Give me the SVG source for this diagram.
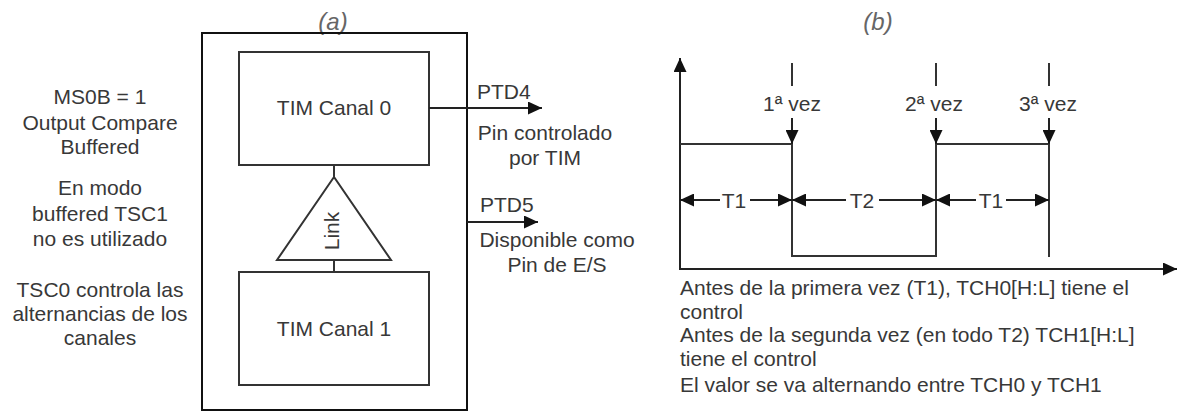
<svg xmlns="http://www.w3.org/2000/svg" width="1178" height="412" viewBox="0 0 1178 412">
  <style>
    .t { font-family: "Liberation Sans", Arial, sans-serif; font-size: 21px; fill: #383838; }
    .c { text-anchor: middle; }
    .cap { font-family: "Liberation Sans", Arial, sans-serif; font-size: 24px; font-style: italic; fill: #666; text-anchor: middle; }
    .box { fill: #fff; stroke: #333; stroke-width: 2; }
    .ln { fill: none; stroke: #333; stroke-width: 2; }
    .arr { fill: none; stroke: #222; stroke-width: 2; marker-end: url(#ah); }
  </style>
  <defs>
    <marker id="ah" markerUnits="userSpaceOnUse" markerWidth="14" markerHeight="13" refX="14" refY="6.5" orient="auto">
      <path d="M0,0 L14,6.5 L0,13 Z" fill="#111"/>
    </marker>
  </defs>
  <rect width="1178" height="412" fill="#fff"/>

  <!-- captions -->
  <text class="cap" x="333" y="30">(a)</text>
  <text class="cap" x="878" y="30">(b)</text>

  <!-- left notes -->
  <g id="notes-left" class="t c">
    <text x="100" y="104">MS0B = 1</text>
    <text x="100" y="130">Output Compare</text>
    <text x="100" y="154">Buffered</text>
    <text x="100" y="195">En modo</text>
    <text x="100" y="221">buffered TSC1</text>
    <text x="100" y="246">no es utilizado</text>
    <text x="100" y="297">TSC0 controla las</text>
    <text x="100" y="321">alternancias de los</text>
    <text x="100" y="345">canales</text>
  </g>

  <!-- outer container -->
  <g id="tim-module">
    <rect x="202" y="33" width="265" height="377" fill="none" stroke="#111" stroke-width="2"/>
  </g>

  <g id="canal0">
    <rect class="box" x="239" y="52" width="190" height="113"/>
    <text class="t c" x="334" y="115">TIM Canal 0</text>
  </g>

  <g id="link">
    <polygon class="box" points="334,177 277,260 391,260"/>
    <text class="t c" x="0" y="0" transform="translate(339,231) rotate(-90)">Link</text>
  </g>

  <g id="canal1">
    <rect class="box" x="239" y="272" width="190" height="113"/>
    <text class="t c" x="334" y="336">TIM Canal 1</text>
  </g>

  <g id="connectors">
    <line class="ln" x1="334" y1="165" x2="334" y2="177"/>
    <line class="ln" x1="334" y1="260" x2="334" y2="272"/>
    <line class="arr" x1="429" y1="108" x2="542" y2="108"/>
    <line class="arr" x1="467" y1="222" x2="538" y2="222"/>
  </g>

  <g id="ptd4-label" class="t">
    <text x="477" y="99">PTD4</text>
    <text class="c" x="545" y="140">Pin controlado</text>
    <text class="c" x="545" y="165">por TIM</text>
  </g>
  <g id="ptd5-label" class="t">
    <text x="480" y="212">PTD5</text>
    <text class="c" x="557" y="247">Disponible como</text>
    <text class="c" x="557" y="272">Pin de E/S</text>
  </g>

  <!-- timing diagram -->
  <g id="timing">
    <line class="arr" x1="680" y1="269" x2="680" y2="58"/>
    <line class="arr" x1="679" y1="269" x2="1177" y2="269"/>
    <polyline class="ln" points="680,144 792,144 792,256 936,256 936,144 1049,144"/>
    <line class="ln" x1="1049" y1="144" x2="1049" y2="257"/>

    <line class="ln" x1="792" y1="63" x2="792" y2="86"/>
    <line class="arr" x1="792" y1="118" x2="792" y2="144"/>
    <line class="ln" x1="936" y1="63" x2="936" y2="86"/>
    <line class="arr" x1="936" y1="118" x2="936" y2="144"/>
    <line class="ln" x1="1049" y1="63" x2="1049" y2="86"/>
    <line class="arr" x1="1049" y1="118" x2="1049" y2="144"/>

    <text class="t c" x="792" y="111">1ª vez</text>
    <text class="t c" x="934" y="111">2ª vez</text>
    <text class="t c" x="1048" y="111">3ª vez</text>

    <line class="arr" x1="720" y1="200" x2="680" y2="200"/>
    <line class="arr" x1="750" y1="200" x2="792" y2="200"/>
    <text class="t c" x="734" y="208">T1</text>

    <line class="arr" x1="846" y1="200" x2="792" y2="200"/>
    <line class="arr" x1="879" y1="200" x2="936" y2="200"/>
    <text class="t c" x="862" y="208">T2</text>

    <line class="arr" x1="976" y1="200" x2="936" y2="200"/>
    <line class="arr" x1="1006" y1="200" x2="1049" y2="200"/>
    <text class="t c" x="991" y="208">T1</text>
  </g>

  <g id="notes-bottom" class="t">
    <text x="680" y="295">Antes de la primera vez (T1), TCH0[H:L] tiene el</text>
    <text x="680" y="319">control</text>
    <text x="680" y="342">Antes de la segunda vez (en todo T2) TCH1[H:L]</text>
    <text x="680" y="366">tiene el control</text>
    <text x="680" y="392">El valor se va alternando entre TCH0 y TCH1</text>
  </g>
</svg>
